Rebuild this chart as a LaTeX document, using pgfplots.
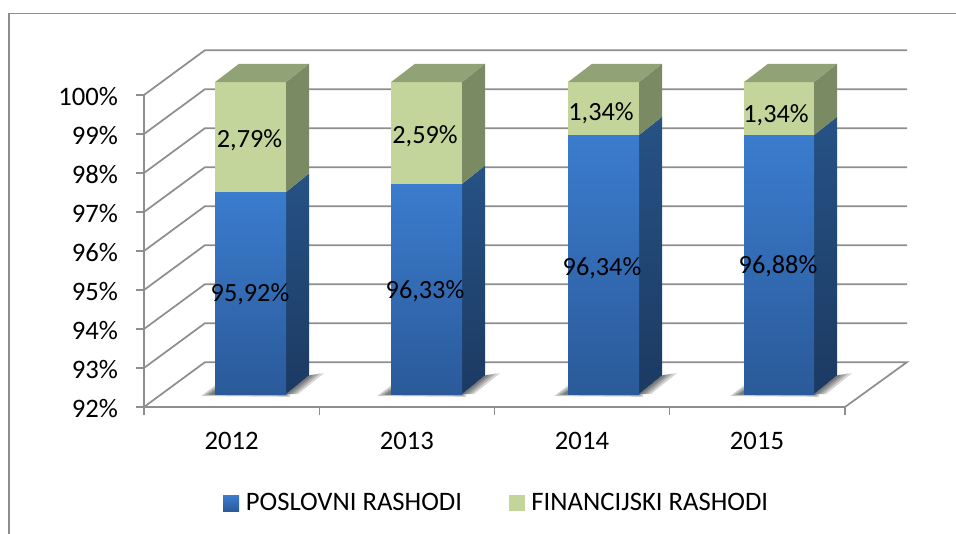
\documentclass[border=0pt]{standalone}
\usepackage{fontspec}
\setmainfont{Carlito}
\usepackage{pgfplots}
\pgfplotsset{compat=1.18}
\definecolor{gridgray}{HTML}{8E8E8E}
\definecolor{bluetop}{HTML}{3B7CCE}
\definecolor{bluebot}{HTML}{2A5A99}
\definecolor{sidetop}{HTML}{265285}
\definecolor{sidebot}{HTML}{1C3A62}
\definecolor{greenfront}{HTML}{C4D59B}
\definecolor{greenside}{HTML}{7A8A63}
\definecolor{greentop}{HTML}{92A277}
\pgfplotsset{
  bluefront/.style={forget plot,draw=none,top color=bluetop,bottom color=bluebot},
  blueside/.style={forget plot,draw=none,top color=sidetop,bottom color=sidebot},
  gfront/.style={forget plot,draw=none,fill=greenfront},
  gside/.style={forget plot,draw=none,fill=greenside},
  gtop/.style={forget plot,draw=none,fill=greentop},
  shadow/.style={forget plot,draw=none,fill=black,fill opacity=0.17},
}
\begin{document}
\begin{tikzpicture}
\useasboundingbox (0,0) rectangle (717pt,400.5pt);
\begin{axis}[
  at={(108pt,95.25pt)}, anchor=south west,
  scale only axis, width=525.75pt, height=234pt,
  xmin=144, xmax=845, ymin=92, ymax=100,
  clip=false,
  axis x line=bottom, axis y line=left,
  axis line style={gridgray,line width=1.1pt,-},
  xtick={231.6,406.9,582,757},
  xticklabels={2012,2013,2014,2015},
  minor xtick={144,319.25,494.5,669.75,845},
  ytick={92,93,94,95,96,97,98,99,100},
  yticklabels={92\%,93\%,94\%,95\%,96\%,97\%,98\%,99\%,100\%},
  major x tick style={draw=none},
  minor tick length=6pt, major tick length=6pt,
  tick align=outside,
  tick style={gridgray,line width=1.1pt},
  ticklabel style={font=\fontsize{20}{23}\selectfont,text=black},
  xticklabel style={yshift=-9pt},
  yticklabel style={xshift=-10pt,yshift=-1pt},
  legend columns=2,
  legend cell align=left,
  legend style={at={(axis cs:497,89.53)},anchor=center,draw=none,fill=none,
    font=\fontsize{20}{23}\selectfont,
    /tikz/every even column/.style={column sep=33pt},
    /tikz/every odd column/.style={column sep=0pt}},
  legend image code/.code={\path[#1] (0pt,-6pt) rectangle (12pt,6pt);},
  unbounded coords=jump,
]
% outer frame
\addplot[forget plot,gridgray,line width=1.1pt] coordinates {(9,88.744) (9,102.09) (956,102.09)};
% walls and floor
\addplot[forget plot,gridgray,line width=1.3pt] coordinates {
  (144,92) (205,93.15) (907,93.15) (845,92) (nan,nan)
  (144,93) (205,94.15) (907,94.15) (nan,nan)
  (144,94) (205,95.15) (907,95.15) (nan,nan)
  (144,95) (205,96.15) (907,96.15) (nan,nan)
  (144,96) (205,97.15) (907,97.15) (nan,nan)
  (144,97) (205,98.15) (907,98.15) (nan,nan)
  (144,98) (205,99.15) (907,99.15) (nan,nan)
  (144,99) (205,100.15) (907,100.15) (nan,nan)
  (144,100) (205,101.15) (907,101.15)
};
% floor shadows, soft edge built from stacked layers
\pgfplotsinvokeforeach{215,391,568,744}{
  \addplot[shadow,x filter/.expression={x+#1}] coordinates {(-14,92.28) (75,92.26) (75,92.33) (0,92.55)} -- cycle;
  \addplot[shadow,x filter/.expression={x+#1}] coordinates {(-11,92.30) (73,92.28) (73,92.33) (0,92.50)} -- cycle;
  \addplot[shadow,x filter/.expression={x+#1}] coordinates {(-8,92.31) (72,92.30) (72,92.33) (0,92.45)} -- cycle;
  \addplot[shadow,x filter/.expression={x+#1}] coordinates {(-5,92.32) (71,92.32) (71,92.33) (0,92.42)} -- cycle;
}
\pgfplotsinvokeforeach{286,462,639,814}{
  \addplot[shadow,x filter/.expression={x+#1}] coordinates {(0,92.33) (23,92.81) (38,92.87) (12,92.33)} -- cycle;
  \addplot[shadow,x filter/.expression={x+#1}] coordinates {(0,92.33) (23,92.81) (34,92.86) (9,92.33)} -- cycle;
  \addplot[shadow,x filter/.expression={x+#1}] coordinates {(0,92.33) (23,92.81) (30,92.84) (6,92.33)} -- cycle;
  \addplot[shadow,x filter/.expression={x+#1}] coordinates {(0,92.33) (23,92.81) (27,92.83) (3,92.33)} -- cycle;
}
% 2012
\addplot[blueside] coordinates {(286,92.33) (309,92.81) (309,97.99) (286,97.51)} -- cycle;
\addplot[bluefront] coordinates {(215,92.33) (286,92.33) (286,97.51) (215,97.51)} -- cycle;
\addplot[gside] coordinates {(286,97.51) (309,97.99) (309,100.80) (286,100.33)} -- cycle;
\addplot[gfront] coordinates {(215,97.51) (286,97.51) (286,100.33) (215,100.33)} -- cycle;
\addplot[gtop] coordinates {(215,100.33) (286,100.33) (309,100.80) (239,100.80)} -- cycle;
% 2013
\addplot[blueside] coordinates {(462,92.33) (485,92.81) (485,98.19) (462,97.72)} -- cycle;
\addplot[bluefront] coordinates {(391,92.33) (462,92.33) (462,97.72) (391,97.72)} -- cycle;
\addplot[gside] coordinates {(462,97.72) (485,98.19) (485,100.80) (462,100.33)} -- cycle;
\addplot[gfront] coordinates {(391,97.72) (462,97.72) (462,100.33) (391,100.33)} -- cycle;
\addplot[gtop] coordinates {(391,100.33) (462,100.33) (485,100.80) (415,100.80)} -- cycle;
% 2014
\addplot[blueside] coordinates {(639,92.33) (662,92.81) (662,99.44) (639,98.97)} -- cycle;
\addplot[bluefront] coordinates {(568,92.33) (639,92.33) (639,98.97) (568,98.97)} -- cycle;
\addplot[gside] coordinates {(639,98.97) (662,99.44) (662,100.80) (639,100.33)} -- cycle;
\addplot[gfront] coordinates {(568,98.97) (639,98.97) (639,100.33) (568,100.33)} -- cycle;
\addplot[gtop] coordinates {(568,100.33) (639,100.33) (662,100.80) (592,100.80)} -- cycle;
% 2015
\addplot[blueside] coordinates {(814,92.33) (837,92.81) (837,99.44) (814,98.97)} -- cycle;
\addplot[bluefront] coordinates {(744,92.33) (814,92.33) (814,98.97) (744,98.97)} -- cycle;
\addplot[gside] coordinates {(814,98.97) (837,99.44) (837,100.80) (814,100.33)} -- cycle;
\addplot[gfront] coordinates {(744,98.97) (814,98.97) (814,100.33) (744,100.33)} -- cycle;
\addplot[gtop] coordinates {(744,100.33) (814,100.33) (837,100.80) (768,100.80)} -- cycle;
% data labels
\addplot[forget plot,only marks,mark=none,
  point meta=explicit symbolic,
  nodes near coords={\pgfplotspointmeta\%},
  every node near coord/.append style={anchor=center,inner sep=0pt,text=black,
    font=\fontsize{19.7}{23}\selectfont}]
  table[meta=label] {
x y label
250 94.88 95,92
425 94.98 96,33
602 95.57 96,34
778 95.62 96,88
249.5 98.85 2,79
425 98.95 2,59
601 99.54 1,34
776 99.47 1,34
};
% legend keys
\addplot[draw=none,top color=bluetop,bottom color=bluebot] coordinates {(215,92.33) (215,92.33)};
\addlegendentry{\hspace{3pt}POSLOVNI RASHODI}
\addplot[draw=none,fill=greenfront] coordinates {(215,92.33) (215,92.33)};
\addlegendentry{\hspace{3pt}FINANCIJSKI RASHODI}
\end{axis}
\end{tikzpicture}
\end{document}
